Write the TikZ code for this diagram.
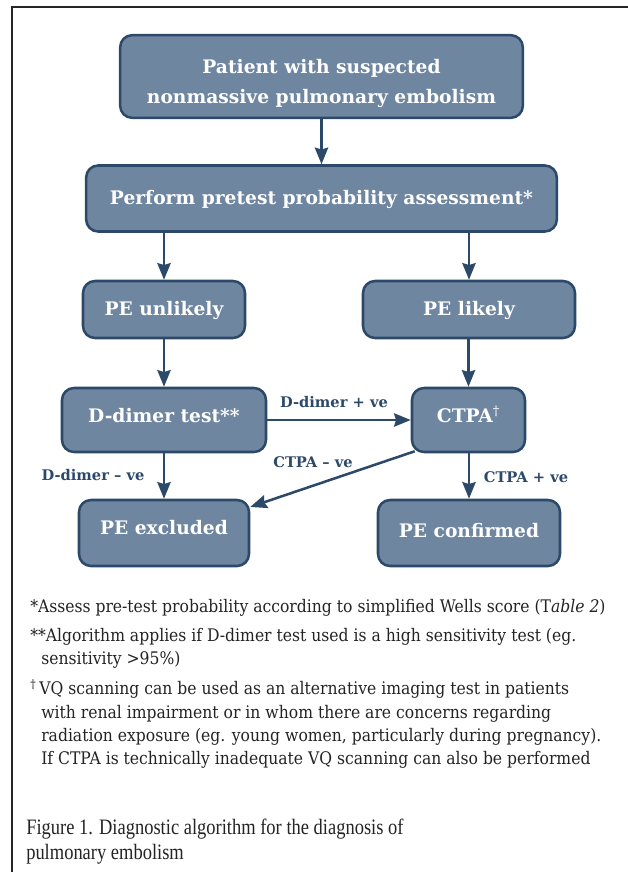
\documentclass[tikz,border=0pt]{standalone}
\usepackage{fontspec}
\setmainfont{DejaVu Serif}
\newfontfamily\notefont[FakeStretch=0.9]{DejaVu Serif}
\newfontfamily\capfont[FakeStretch=0.84]{Liberation Serif}
\usetikzlibrary{arrows.meta,calc}
\definecolor{boxfill}{RGB}{111,134,160}
\definecolor{boxline}{RGB}{45,73,105}
\definecolor{notecol}{RGB}{35,35,35}
% move text up/down inside its box without changing the box size
\newcommand{\shiftline}[2]{\raisebox{#1}[\height][\depth]{#2}}
\tikzset{
  flowbox/.style={draw=boxline, fill=boxfill, line width=1.9pt, rounded corners=9pt,
    text=white, font=\bfseries\fontsize{14}{22.5}\selectfont, inner sep=0pt},
  oneline/.style={text height=10.5pt, text depth=3.5pt},
  flowarrow/.style={draw=boxline, line width=1.9pt,
    -{Stealth[length=12.5pt,width=10pt,inset=1.5pt]}},
  edgelabel/.style={text=boxline, font=\bfseries\fontsize{11}{13}\selectfont, inner sep=0pt},
  noteline/.style={anchor=base west, inner sep=0pt, text=notecol, font=\notefont\fontsize{13}{15}\selectfont},
  capline/.style={anchor=base west, inner sep=0pt, text=notecol, font=\capfont\fontsize{16.5}{19}\selectfont}
}
\begin{document}
\begin{tikzpicture}[x=0.75pt,y=-0.75pt]
  \useasboundingbox (0,0) rectangle (628,872);
  % frame: top and left rules only
  \draw[line width=1.1pt, black!85] (628,7) -- (12,7) -- (12,872);

  % flowchart boxes
  \node[flowbox, minimum width=302pt, minimum height=62pt] (start) at (321.5,76.5)
    {\shiftline{-4.5pt}{\begin{tabular}{@{}c@{}}Patient with suspected\\nonmassive pulmonary embolism\end{tabular}}};
  \node[flowbox, oneline, minimum width=353pt, minimum height=49.5pt] (assess) at (321.5,198.5)
    {\shiftline{-1pt}{Perform pretest probability assessment*}};
  \node[flowbox, oneline, minimum width=121.5pt, minimum height=42.75pt] (unlikely) at (164,309.5)
    {\shiftline{-1pt}{PE unlikely}};
  \node[flowbox, oneline, minimum width=159pt, minimum height=42.75pt] (likely) at (469,309.5)
    {\shiftline{-1pt}{PE likely}};
  \node[flowbox, oneline, minimum width=153pt, minimum height=48pt] (ddimer) at (164,420)
    {\shiftline{1.5pt}{D-dimer test**}};
  \node[flowbox, oneline, minimum width=84.75pt, minimum height=48pt] (ctpa) at (468.5,420)
    {\shiftline{1.5pt}{CTPA\textsuperscript{\textmd{\textdagger}}}};
  \node[flowbox, oneline, minimum width=127.5pt, minimum height=49.5pt] (excluded) at (164,533)
    {\shiftline{2.25pt}{PE excluded}};
  \node[flowbox, oneline, minimum width=136.5pt, minimum height=49.5pt] (confirmed) at (469,533)
    {\shiftline{0pt}{PE confirmed}};

  % connectors
  \draw[flowarrow] (start.south) -- (assess.north);
  \draw[flowarrow] (assess.south -| unlikely.north) -- (unlikely.north);
  \draw[flowarrow] (assess.south -| likely.north) -- (likely.north);
  \draw[flowarrow] (unlikely.south) -- (ddimer.north);
  \draw[flowarrow] (likely.south -| ctpa.north) -- (ctpa.north);
  \draw[flowarrow] (ddimer.east) -- (ctpa.west);
  \draw[flowarrow] (ddimer.south) -- (excluded.north);
  \draw[flowarrow] (ctpa.south -| confirmed.north) -- (confirmed.north);
  \draw[flowarrow] ($(ctpa.south west)+(4,-2)$) -- ($(excluded.north east)!0.12!(excluded.south east)$);

  % connector labels
  \node[edgelabel] (lddpos) at (334,402) {D-dimer + ve};
  \node[edgelabel] (lddneg) at (93,475) {D-dimer -- ve};
  \node[edgelabel] (lctneg) at (313,462) {CTPA -- ve};
  \node[edgelabel] (lctpos) at (526,477) {CTPA + ve};

  % footnotes
  \node[noteline] (n1) at (30,612) {*Assess pre-test probability according to simplified Wells score (T\textit{able 2})};
  \node[noteline] (n2) at (30,641) {**Algorithm applies if D-dimer test used is a high sensitivity test (eg.};
  \node[noteline] (n3) at (41,664) {sensitivity >95\%)};
  \node[noteline] (n4) at (30,694) {\textsuperscript{\textdagger}\,VQ scanning can be used as an alternative imaging test in patients};
  \node[noteline] (n5) at (41,718) {with renal impairment or in whom there are concerns regarding};
  \node[noteline] (n6) at (41,741) {radiation exposure (eg. young women, particularly during pregnancy).};
  \node[noteline] (n7) at (41,764) {If CTPA is technically inadequate VQ scanning can also be performed};

  % caption
  \node[capline] (c1) at (26,834) {Figure 1. Diagnostic algorithm for the diagnosis of};
  \node[capline] (c2) at (26,859) {pulmonary embolism};
\end{tikzpicture}
\end{document}
